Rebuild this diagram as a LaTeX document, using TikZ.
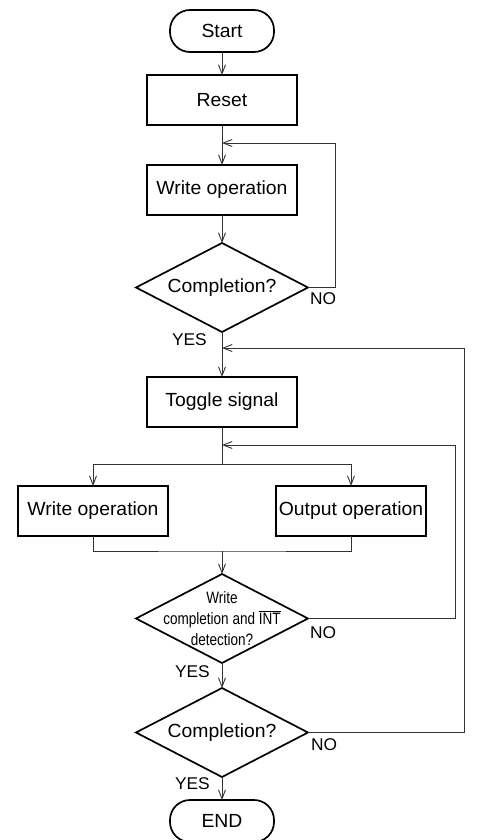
\documentclass[tikz,border=0pt]{standalone}
\usepackage{fontspec}
\setmainfont{Liberation Sans}[FakeStretch=1.02]
\newfontfamily\narrowfont{Liberation Sans}[FakeStretch=0.82]
\usepackage{tikz}
\usetikzlibrary{shapes.geometric,arrows.meta,positioning}

\begin{document}
\begin{tikzpicture}[
            node distance=23pt,
            terminal/.style={rectangle, draw, line width=1.7pt, outer sep=0pt, rounded corners=20pt, minimum width=104pt, minimum height=42pt, font=\fontsize{19}{22}\selectfont},
            block/.style={rectangle, draw, line width=1.7pt, outer sep=0pt, minimum width=150pt, minimum height=50pt, inner xsep=1pt, font=\fontsize{19}{22}\selectfont},
            decision/.style={diamond, draw, line width=1.7pt, outer sep=0pt, aspect=2, inner sep=0pt, minimum width=172pt, minimum height=89pt, font=\fontsize{19}{22}\selectfont},
            answer/.style={inner sep=0pt, font=\fontsize{17}{20}\selectfont},
            link/.style={line width=0.9pt, draw=black!80},
            arrow/.style={link, ->, >={Straight Barb[length=9pt,width=7pt]}}
        ]
        
        \path[use as bounding box] (0pt,0pt) rectangle (480pt,-840pt);
        
        \node[terminal] (start) at (222pt,-31pt) {Start};
        \node[block, below=23pt of start] (reset) {Reset};
        \node[block, below=40pt of reset] (write1) {Write operation};
        \node[decision, below=28pt of write1] (comp1) {Completion?};
        
        \node[block, below=45pt of comp1] (toggle) {Toggle signal};
        \node[block, below=59pt of toggle, xshift=-129pt] (write2) {Write operation};
        \node[block, below=59pt of toggle, xshift=129pt] (output) {Output operation};
        
        \node[decision, below=147pt of toggle, label={[font=\narrowfont\fontsize{16.5}{21}\selectfont, align=center]center:{Write\\completion and $\overline{\mbox{INT}}$\\detection?}}] (intdet) {};
        \node[decision, below=25pt of intdet] (comp2) {Completion?};
        \node[terminal, below=23pt of comp2] (end) {END};
        
        \coordinate[below=18pt of reset] (j1);
        \coordinate[below=16pt of comp1] (j2);
        \coordinate[below=18pt of toggle] (j3);
        \coordinate[below=37pt of toggle] (split);
        \coordinate[below=124pt of toggle] (merge);
        
        \node[answer, below right=5pt and 2pt of comp1.east] (no1) {NO};
        \node[answer, below left=1pt and 15pt of comp1.south] (yes1) {YES};
        \node[answer, below right=8pt and 2pt of intdet.east] (no2) {NO};
        \node[answer, below left=2pt and 12pt of intdet.south] (yes2) {YES};
        \node[answer, below right=6pt and 3pt of comp2.east] (no3) {NO};
        \node[answer, below left=0pt and 12pt of comp2.south] (yes3) {YES};
        
        \draw[arrow] (start) -- (reset);
        \draw[link] (reset) -- (j1);
        \draw[arrow] (j1) -- (write1);
        \draw[arrow] (write1) -- (comp1);
        \draw[arrow] (comp1.east) -- ++(27pt,0) |- (j1);
        \draw[link] (comp1) -- (j2);
        \draw[arrow] (j2) -- (toggle);
        \draw[arrow] (comp2.east) -- ++(156pt,0) |- (j2);
        \draw[link] (toggle) -- (split);
        \draw[arrow] (intdet.east) -- ++(147pt,0) |- (j3);
        \draw[arrow] (split) -| (write2);
        \draw[arrow] (split) -| (output);
        \draw[link] (write2) |- (merge) -| (output);
        \draw[arrow] (merge) -- (intdet);
        \draw[arrow] (intdet) -- (comp2);
        \draw[arrow] (comp2) -- (end);
        
        \end{tikzpicture}
\end{document}
